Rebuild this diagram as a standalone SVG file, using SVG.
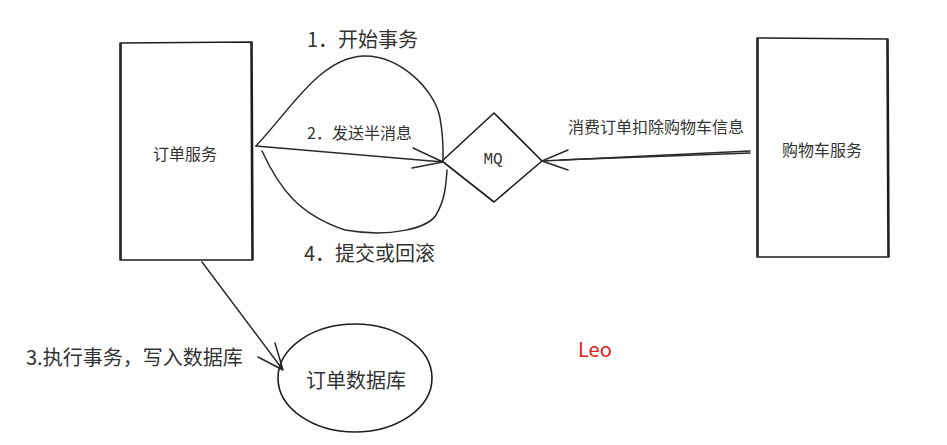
<svg xmlns="http://www.w3.org/2000/svg" width="947" height="445" viewBox="0 0 947 445">
<style>
.shape{fill:none;stroke:#1e1e1e;stroke-width:1.6;stroke-linecap:round;stroke-linejoin:round}
.edge{fill:none;stroke:#2a2a2a;stroke-width:1.5;stroke-linecap:round;stroke-linejoin:round}
.t{font-family:"Noto Sans CJK SC","Noto Sans",sans-serif;fill:#333;dominant-baseline:central}
.mono{font-family:"Liberation Mono","DejaVu Sans Mono",monospace;fill:#333;dominant-baseline:central}
</style>
<rect width="947" height="445" fill="#fff"/>
<g id="order-service">
<path class="shape" d="M120 43 L252 42 L253 260 L120 260 Z"/>
<path class="shape" d="M121 44 L121 259 M251 43 L252 259" stroke-width="0.8"/>
<text class="t" x="185" y="153" font-size="16" text-anchor="middle">订单服务</text>
</g>
<g id="cart-service">
<path class="shape" d="M757 38 L888 39 L889 257 L757 257 Z"/>
<path class="shape" d="M758 39 L758 256 M887 40 L888 256" stroke-width="0.8"/>
<text class="t" x="822" y="149" font-size="16" text-anchor="middle">购物车服务</text>
</g>
<g id="mq">
<path class="shape" d="M494 113 L542 161 L494 202 L442 161 Z"/>
<text class="mono" x="493" y="160" font-size="16" text-anchor="middle">MQ</text>
</g>
<g id="order-db">
<ellipse class="shape" cx="355" cy="378" rx="77" ry="54"/>
<text class="t" x="356" y="379" font-size="20" text-anchor="middle">订单数据库</text>
</g>
<g id="connectors">
<path class="edge" d="M256 146 C290 110 320 58 363 56 C400 55 435 90 440 118 C444 140 443 155 443 162"/>
<path class="edge" d="M256 146 L443 162 M413 148 L443 162 L412 168"/>
<path class="edge" d="M262 151 C280 190 300 215 345 230 C390 238 428 228 436 215 C445 200 446 185 447 170"/>
<path class="edge" d="M750 151 L542 161 M568 150 L542 161 L568 170"/>
<path class="edge" d="M750 153 L560 160" stroke-width="0.8"/>
<path class="edge" d="M202 262 L283 370 M275 343 L283 370 L258 357"/>
</g>
<g id="labels">
<text class="t" x="307" y="38" font-size="20">1．开始事务</text>
<text class="t" x="307" y="132" font-size="16">2．发送半消息</text>
<text class="t" x="304" y="252" font-size="20">4．提交或回滚</text>
<text class="t" x="568" y="126" font-size="16">消费订单扣除购物车信息</text>
<text class="t" x="26" y="356" font-size="20">3.执行事务，写入数据库</text>
<text class="t" x="578" y="348" font-size="20" style="fill:#e02020">Leo</text>
</g>
</svg>
